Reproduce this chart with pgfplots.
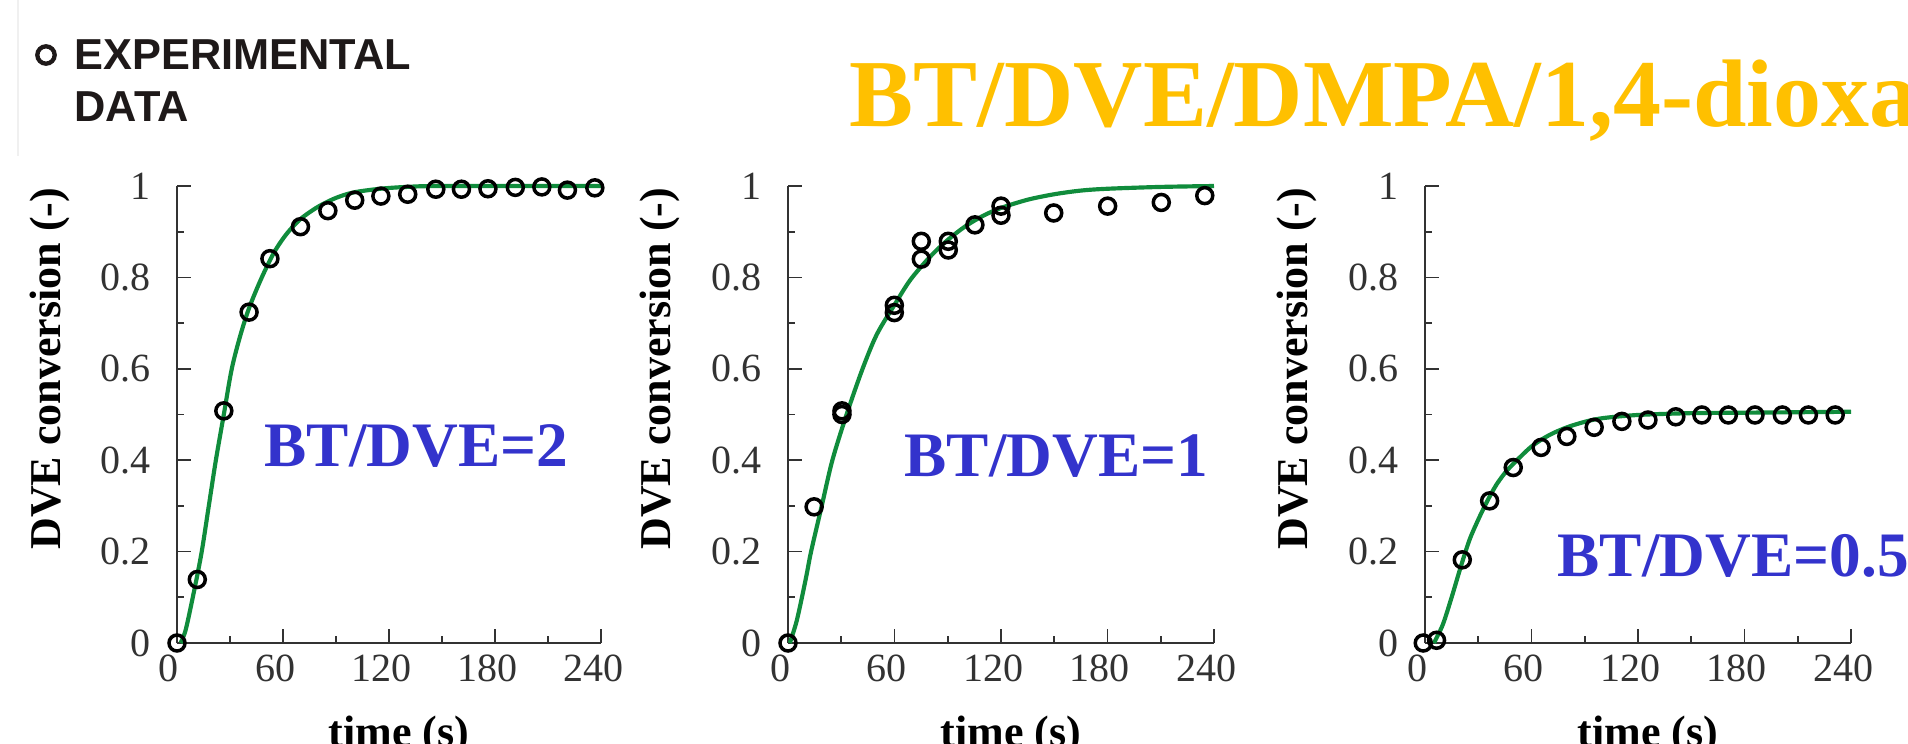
\documentclass[border=0pt]{standalone}
\usepackage{pgfplots}
\pgfplotsset{compat=1.18}
\usepackage{fontspec}
\setmainfont{Liberation Serif}
\newfontfamily\lsans{Liberation Sans}
\definecolor{titlegold}{RGB}{255,192,0}
\definecolor{lblblue}{RGB}{51,51,204}
\definecolor{fitgreen}{RGB}{16,140,60}
\definecolor{axisgray}{RGB}{50,50,50}
\definecolor{legblack}{RGB}{30,25,25}

\pgfplotsset{
  myaxis/.style={
    scale only axis, width=127.8pt, height=137.1pt,
    anchor=south west,
    xmin=0, xmax=240, ymin=0, ymax=1,
    axis x line*=bottom, axis y line*=left,
    axis line style={draw=axisgray, line width=0.6pt, -},
    xtick={0,60,120,180,240}, minor xtick={30,90,150,210},
    ytick={0,0.2,0.4,0.6,0.8,1}, minor ytick={0.1,0.3,0.5,0.7,0.9},
    tick align=inside,
    major tick length=4.2pt, minor tick length=2pt,
    every tick/.style={draw=axisgray, line width=0.5pt},
    ticklabel style={font=\fontsize{12}{14}\selectfont, text=axisgray},
    xticklabel style={xshift=-2.4pt},
    yticklabel style={xshift=-4.5pt},
    /pgf/number format/assume math mode=true,
    every axis y label/.style={at={(axis description cs:-0.30,0.60)}, anchor=center, rotate=90,
      font=\fontsize{13.2}{15}\selectfont\bfseries, text=black},
    every axis x label/.style={at={(axis description cs:0.5235,0)}, anchor=base, yshift=-30.9pt,
      font=\fontsize{13.2}{15}\selectfont\bfseries, text=black},
    xlabel={time (s)}, ylabel={DVE conversion (-)},
    clip=false,
  },
  fit/.style={color=fitgreen, line width=1.25pt, smooth, no markers},
  expt/.style={only marks, mark=o, mark size=2.4pt, mark options={draw=black, line width=1.05pt}},
}

\begin{document}
\begin{tikzpicture}
\useasboundingbox (0,0) rectangle (572.4pt,222.9pt);

% ---------- Plot 1: BT/DVE=2
\begin{axis}[myaxis, at={(53.1pt,30pt)}, width=127.2pt]
\addplot[fit] coordinates {
(2,0) (5,0.03) (10,0.12) (14,0.2) (18,0.3) (22,0.4) (26.5,0.5) (31,0.6) (36,0.675) (41,0.735)
(48,0.8) (55,0.855) (62,0.895) (70,0.928) (80,0.955) (90,0.974) (100,0.986) (115,0.994)
(130,0.998) (150,1) (240,1)};
\addplot[expt] coordinates {
(0,0) (11.5,0.139) (26.5,0.508) (40.8,0.724) (52.6,0.841) (69.9,0.911) (85.4,0.946)
(100.6,0.969) (115.4,0.978) (130.6,0.982) (146.5,0.993) (161,0.993) (176,0.994)
(191.5,0.997) (206.5,0.998) (221,0.991) (236.5,0.996)};
\end{axis}

% ---------- Plot 2: BT/DVE=1
\begin{axis}[myaxis, at={(236.4pt,30pt)}]
\addplot[fit] coordinates {
(1,0) (5,0.05) (10,0.14) (13,0.2) (19,0.3) (25,0.4) (33,0.5) (42,0.6) (50,0.675) (60,0.74)
(69,0.795) (80,0.845) (90,0.882) (100,0.912) (110,0.935) (120,0.952) (135,0.97) (150,0.982)
(165,0.99) (180,0.994) (210,0.998) (240,1)};
\addplot[expt] coordinates {
(0,0) (14.7,0.298) (30.4,0.508) (30.4,0.500) (59.9,0.739) (59.9,0.723) (75.1,0.879)
(75.1,0.840) (90.3,0.879) (90.3,0.860) (105.3,0.915) (120,0.956) (120,0.936) (149.7,0.941)
(180.1,0.956) (210.3,0.964) (234.8,0.979)};
\end{axis}

% ---------- Plot 3: BT/DVE=0.5
\begin{axis}[myaxis, at={(427.5pt,30pt)}]
\addplot[fit] coordinates {
(5,0) (10,0.04) (15,0.1) (20,0.165) (25,0.225) (30,0.27) (35,0.31) (40,0.345) (45,0.372)
(50,0.393) (60,0.43) (70,0.455) (80,0.472) (90,0.484) (100,0.492) (120,0.499) (150,0.503)
(180,0.504) (240,0.506)};
\addplot[expt] coordinates {
(-1,0) (6.5,0.006) (21,0.182) (36.4,0.311) (49.7,0.384) (65.4,0.428) (79.9,0.452)
(95.3,0.472) (110.9,0.485) (125.6,0.488) (141.3,0.495) (156,0.499) (170.9,0.499)
(185.9,0.499) (201.3,0.499) (216,0.499) (231.1,0.499)};
\end{axis}

% ---------- annotations in pixel coordinates (y downward)
\begin{scope}[x=0.3pt, y=-0.3pt, yshift=222.9pt]
\draw[gray!12, line width=0.6pt] (18,0) -- (18,156);
\node[circle, draw=legblack, line width=1.3pt, minimum size=5.2pt, inner sep=0pt] at (46,55) {};
\node[anchor=base west, inner sep=0pt, text=legblack, font=\lsans\bfseries\fontsize{13}{14}\selectfont] at (74,69) {EXPERIMENTAL};
\node[anchor=base west, inner sep=0pt, text=legblack, font=\lsans\bfseries\fontsize{13}{14}\selectfont] at (74,121) {DATA};
\node[anchor=base west, inner sep=0pt, text=titlegold, font=\bfseries\fontsize{28.8}{32}\selectfont] at (849,126) {BT/DVE/DMPA/1,4-dioxane};
\node[anchor=base west, inner sep=0pt, text=lblblue, font=\bfseries\fontsize{19}{22}\selectfont] at (264,466) {BT/DVE=2};
\node[anchor=base west, inner sep=0pt, text=lblblue, font=\bfseries\fontsize{19}{22}\selectfont] at (904,476) {BT/DVE=1};
\node[anchor=base west, inner sep=0pt, text=lblblue, font=\bfseries\fontsize{19}{22}\selectfont] at (1557,576) {BT/DVE=0.5};
\end{scope}
\end{tikzpicture}
\end{document}
